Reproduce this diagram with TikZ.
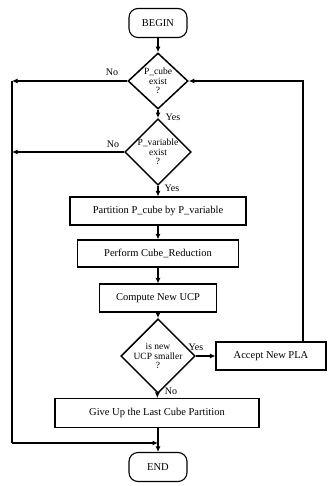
\documentclass[tikz,border=0pt]{standalone}
\usepackage{fontspec}
\setmainfont{Liberation Serif}
\usetikzlibrary{shapes.geometric,arrows.meta,positioning}
\tikzset{
  ln/.style={line width=1.1pt},
  arr/.style={ln,-{Latex[length=5.5pt,width=5pt]}},
  term/.style={draw,ln,rounded corners=9pt,minimum width=58pt,minimum height=29pt,inner sep=0pt,font=\fontsize{10.5}{12}\selectfont},
  proc/.style={draw,ln,minimum height=28pt,inner sep=0pt,font=\fontsize{10.5}{12}\selectfont},
  dec/.style={draw,diamond,line width=1.5pt,minimum width=60pt,minimum height=56pt,inner sep=0pt,align=center,font=\fontsize{9.5}{9.5}\selectfont},
  lbl/.style={font=\fontsize{10}{11}\selectfont,inner sep=0pt}
}
\begin{document}
\begin{tikzpicture}[x=1pt,y=-1pt]
\useasboundingbox (0,0) rectangle (327,486);
\node[term] (begin) at (158,23) {BEGIN};
\node[dec] (d1) at (158,81) {P\_cube\\exist\\?};
\node[dec] (d2) at (158,152) {P\_variable\\exist\\?};
\node[proc,minimum width=176pt] (part) at (158,211) {Partition P\_cube by P\_variable};
\node[proc,minimum width=161pt,minimum height=27pt] (perf) at (158,253.5) {Perform Cube\_Reduction};
\node[proc,minimum width=117pt] (comp) at (158,298) {Compute New UCP};
\node[dec] (d3) at (158,356) {is new\\UCP smaller\\?};
\node[proc,minimum width=110pt] (acc) at (271,356) {Accept New PLA};
\node[proc,minimum width=204pt,minimum height=29pt] (give) at (157,413) {Give Up the Last Cube Partition};
\node[term] (end) at (158,467) {END};
\coordinate (l1) at (12,81);
\coordinate (l2) at (12,152);
\coordinate (lb) at (12,443);
\coordinate (m) at (158,443);
\coordinate (rt) at (303,81);
\coordinate (rb) at (303,342);
\draw[arr] (begin) -- (d1);
\draw[arr] (d1) -- (d2);
\draw[arr] (d2) -- (part);
\draw[arr] (part) -- (perf);
\draw[arr] (perf) -- (comp);
\draw[arr] (comp) -- (d3);
\draw[arr] (d3) -- (acc);
\draw[arr] (d3) -- (give);
\draw[arr] (rb) -- (rt) -- (d1.east);
\draw[arr] (d1.west) -- (l1);
\draw[arr] (d2.west) -- (l2);
\draw[ln] (l1) -- (lb);
\draw[arr] (lb) -- (m);
\draw[arr] (give.south -| m) -- (end.north);
\node[lbl] (no1) at (112,72) {No};
\node[lbl] (yes1) at (173,117) {Yes};
\node[lbl] (no2) at (113,144) {No};
\node[lbl] (yes2) at (172,188) {Yes};
\node[lbl] (yes3) at (196,347) {Yes};
\node[lbl] (no3) at (171,391) {No};
\end{tikzpicture}
\end{document}
